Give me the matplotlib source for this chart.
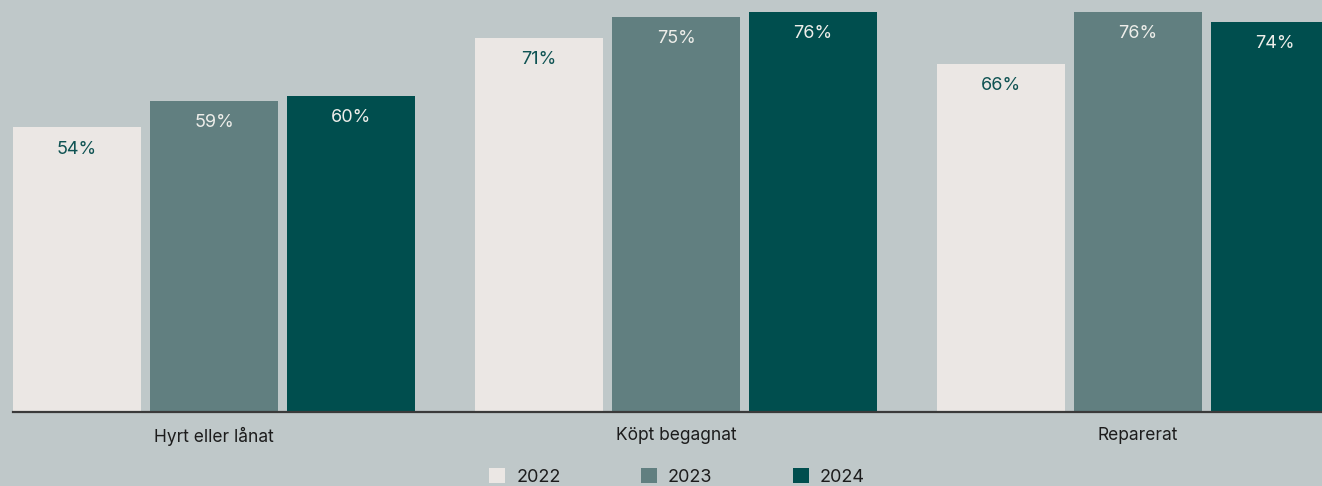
import numpy as np
import matplotlib.pyplot as plt
from matplotlib.patches import Patch

plt.rcParams['font.family'] = ['Inter', 'DejaVu Sans']

categories = ['Hyrt eller lånat', 'Köpt begagnat', 'Reparerat']
years = ['2022', '2023', '2024']
share_2022 = [54, 71, 66]
share_2023 = [59, 75, 76]
share_2024 = [60, 76, 74]

BG = '#bfc8c9'
bar_colors = ['#ebe7e4', '#617f80', '#004e4e']
label_colors = ['#0e5252', '#eeeeea', '#eeeeea']

fig = plt.figure(figsize=(13.22, 4.86), dpi=100, facecolor=BG)
ax = fig.add_axes([13 / 1322, 1 - 412 / 486, 1 - 13 / 1322, 412 / 486])
ax.set_facecolor(BG)

x = np.arange(len(categories))
step = 137 / 462
width = 128 / 462
for i, (vals, col, lcol) in enumerate(zip([share_2022, share_2023, share_2024],
                                          bar_colors, label_colors)):
    pos = x + (i - 1) * step
    ax.bar(pos, vals, width, color=col, zorder=2)
    for px, v in zip(pos, vals):
        ax.annotate(f'{v}%', (px, v), xytext=(0, -15.5), textcoords='offset points',
                    ha='center', va='center', fontsize=13, color=lcol, zorder=3)

ax.set_xlim(-0.435, 2.398)
ax.set_ylim(0, 78.2)
ax.set_xticks(x)
ax.set_xticklabels(categories, fontsize=12.5, color='#1c1c1c')
ax.tick_params(axis='x', length=0, pad=11)
ax.set_yticks([])
for side in ('top', 'right', 'left'):
    ax.spines[side].set_visible(False)
ax.spines['bottom'].set_color('#3a3a3a')
ax.spines['bottom'].set_linewidth(1.6)
ax.spines['bottom'].set_zorder(4)

handles = [Patch(facecolor=c, label=y) for c, y in zip(bar_colors, years)]
fig.legend(handles=handles, loc='upper center', bbox_to_anchor=(677 / 1322, 1 - 452 / 486),
           ncol=3, frameon=False, fontsize=13, handlelength=0.9, handleheight=0.9,
           handletextpad=0.6, columnspacing=4.45, labelcolor='#1c1c1c')

fig.savefig('out.png', dpi=100, facecolor=BG)
